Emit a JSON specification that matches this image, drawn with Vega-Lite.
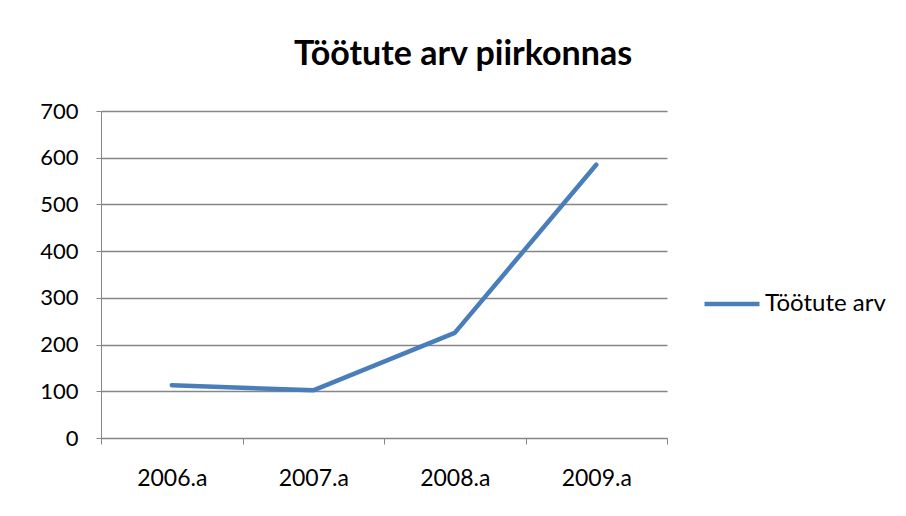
{
  "$schema": "https://vega.github.io/schema/vega-lite/v6.json",
  "autosize": "none",
  "width": 566,
  "height": 327,
  "padding": {"left": 101, "top": 111, "right": 239, "bottom": 78},
  "background": "white",
  "title": {
    "text": "Töötute arv piirkonnas",
    "font": "Lato",
    "fontSize": 34,
    "fontWeight": "bold",
    "color": "#000000",
    "anchor": "middle",
    "dx": 79,
    "offset": 28
  },
  "data": {
    "values": [
      {"year": "2006.a", "value": 113, "series": "Töötute arv"},
      {"year": "2007.a", "value": 102, "series": "Töötute arv"},
      {"year": "2008.a", "value": 225, "series": "Töötute arv"},
      {"year": "2009.a", "value": 585, "series": "Töötute arv"}
    ]
  },
  "mark": {"type": "line", "strokeWidth": 4.5, "strokeCap": "round", "strokeJoin": "round"},
  "encoding": {
    "x": {
      "field": "year",
      "type": "ordinal",
      "bandPosition": 0.5,
      "scale": {"type": "band", "paddingInner": 0, "paddingOuter": 0},
      "axis": {
        "title": null,
        "labelAngle": 0,
        "labelFont": "Lato",
        "labelFontSize": 23,
        "labelColor": "#000000",
        "labelPadding": 23,
        "tickBand": "extent",
        "tickSize": 6,
        "tickColor": "#868686",
        "domainColor": "#868686",
        "grid": false
      }
    },
    "y": {
      "field": "value",
      "type": "quantitative",
      "scale": {"domain": [0, 700], "nice": false},
      "axis": {
        "title": null,
        "values": [0, 100, 200, 300, 400, 500, 600, 700],
        "labelFont": "Lato",
        "labelFontSize": 22,
        "labelColor": "#000000",
        "labelPadding": 18,
        "tickSize": 5,
        "tickColor": "#868686",
        "domainColor": "#868686",
        "gridColor": "#868686",
        "gridWidth": 1.3
      }
    },
    "color": {
      "field": "series",
      "type": "nominal",
      "scale": {"range": ["#4a7ebb"]},
      "legend": {
        "title": null,
        "orient": "none",
        "legendX": 601,
        "legendY": 163,
        "symbolType": "stroke",
        "symbolSize": 3025,
        "symbolStrokeWidth": 4.5,
        "labelFont": "Lato",
        "labelFontSize": 24,
        "labelColor": "#000000",
        "labelOffset": 3
      }
    }
  },
  "config": {"view": {"stroke": null}}
}
